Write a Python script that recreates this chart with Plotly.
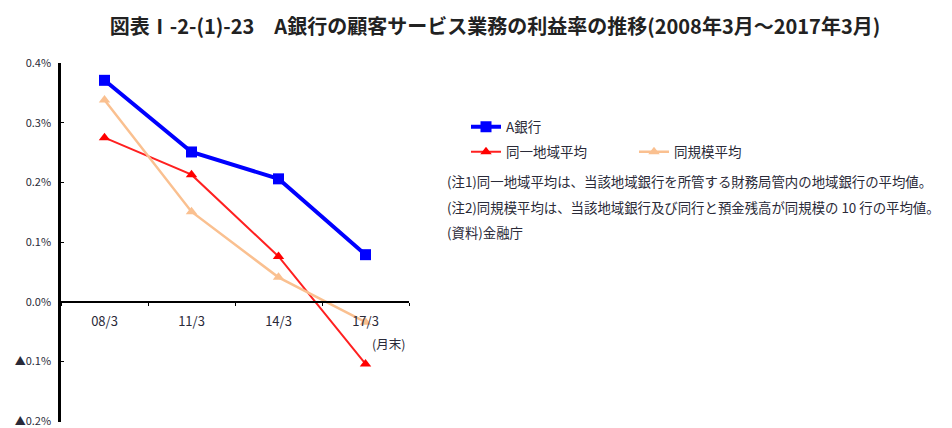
import plotly.graph_objects as go

categories = ["08/3", "11/3", "14/3", "17/3"]
bank_a = [0.371, 0.251, 0.206, 0.079]
same_region = [0.275, 0.213, 0.076, -0.104]
same_size = [0.338, 0.151, 0.041, -0.034]
y_ticks = [-0.2, -0.1, 0.0, 0.1, 0.2, 0.3, 0.4]
y_ticktext = ["▲0.2%", "▲0.1%", "0.0%", "0.1%", "0.2%", "0.3%", "0.4%"]

FONT = "Noto Sans CJK JP"
TXT = "#2a2a38"

# plot-area geometry helpers (pixel -> paper)
L, R, T, B = 61, 409, 63, 422
def px(x):
    return (x - L) / (R - L)
def py(y):
    return (B - y) / (B - T)

fig = go.Figure()
fig.add_trace(go.Scatter(
    x=categories, y=bank_a, name="A銀行", mode="lines+markers",
    line=dict(color="#0000FF", width=4),
    marker=dict(symbol="square", size=11, color="#0000FF"),
    legend="legend", showlegend=True))
fig.add_trace(go.Scatter(
    x=categories, y=same_region, name="同一地域平均", mode="lines+markers",
    line=dict(color="#FF2020", width=2),
    marker=dict(symbol="triangle-up", size=10, color="#FF0000"),
    legend="legend2", showlegend=True))
fig.add_trace(go.Scatter(
    x=categories, y=same_size, name="同規模平均", mode="lines+markers",
    line=dict(color="#FAC090", width=2.5),
    marker=dict(symbol="triangle-up", size=10, color="#FAC090"),
    legend="legend3", showlegend=True))

leg_common = dict(xanchor="left", yanchor="middle", visible=True,
                  bgcolor="rgba(0,0,0,0)", borderwidth=0,
                  font=dict(family=FONT, size=13.5, color=TXT))

fig.update_layout(
    width=952, height=428, showlegend=True,
    margin=dict(l=L, r=952 - R, t=T, b=428 - B, autoexpand=False),
    paper_bgcolor="white", plot_bgcolor="white",
    font=dict(family=FONT, color=TXT),
    title=dict(text="<b>図表Ⅰ-2-(1)-23　A銀行の顧客サービス業務の利益率の推移(2008年3月～2017年3月)</b>",
               x=0.52, xanchor="center", y=1 - 27 / 428, yanchor="middle",
               font=dict(family=FONT, size=20, color="#222222")),
    xaxis=dict(type="category", range=[-0.5, 3.5], anchor="free", position=1 / 3,
               showline=True, linecolor="black", linewidth=2, showgrid=False,
               tickson="boundaries", ticks="outside", ticklen=3, tickcolor="black",
               tickfont=dict(family=FONT, size=13, color=TXT), automargin=False,
               ticklabelstandoff=7),
    yaxis=dict(range=[-0.2012, 0.4], tickvals=y_ticks, ticktext=y_ticktext,
               showline=True, linecolor="black", linewidth=2.5, showgrid=False,
               zeroline=False, ticks="inside", ticklen=3, tickcolor="black",
               tickfont=dict(family=FONT, size=11, color=TXT), automargin=False,
               ticklabelstandoff=5, ticklabeloverflow="allow"),
    legend=dict(x=px(466), y=py(127), **leg_common),
    legend2=dict(x=px(466), y=py(152), **leg_common),
    legend3=dict(x=px(634), y=py(152), **leg_common),
)

notes = [
    "(注1)同一地域平均は、当該地域銀行を所管する財務局管内の地域銀行の平均値。",
    "(注2)同規模平均は、当該地域銀行及び同行と預金残高が同規模の 10 行の平均値。",
    "(資料)金融庁",
]
note_y = [181, 207, 232]
for t, yy in zip(notes, note_y):
    fig.add_annotation(text=t, xref="paper", yref="paper",
                       x=px(445), y=py(yy),
                       xanchor="left", yanchor="middle", showarrow=False,
                       font=dict(family=FONT, size=13.4, color=TXT))

fig.add_annotation(text="(月末)", xref="paper", yref="paper",
                   x=px(388), y=py(343),
                   xanchor="center", yanchor="middle", showarrow=False,
                   font=dict(family=FONT, size=12.5, color=TXT))

fig.write_html("out.html")
